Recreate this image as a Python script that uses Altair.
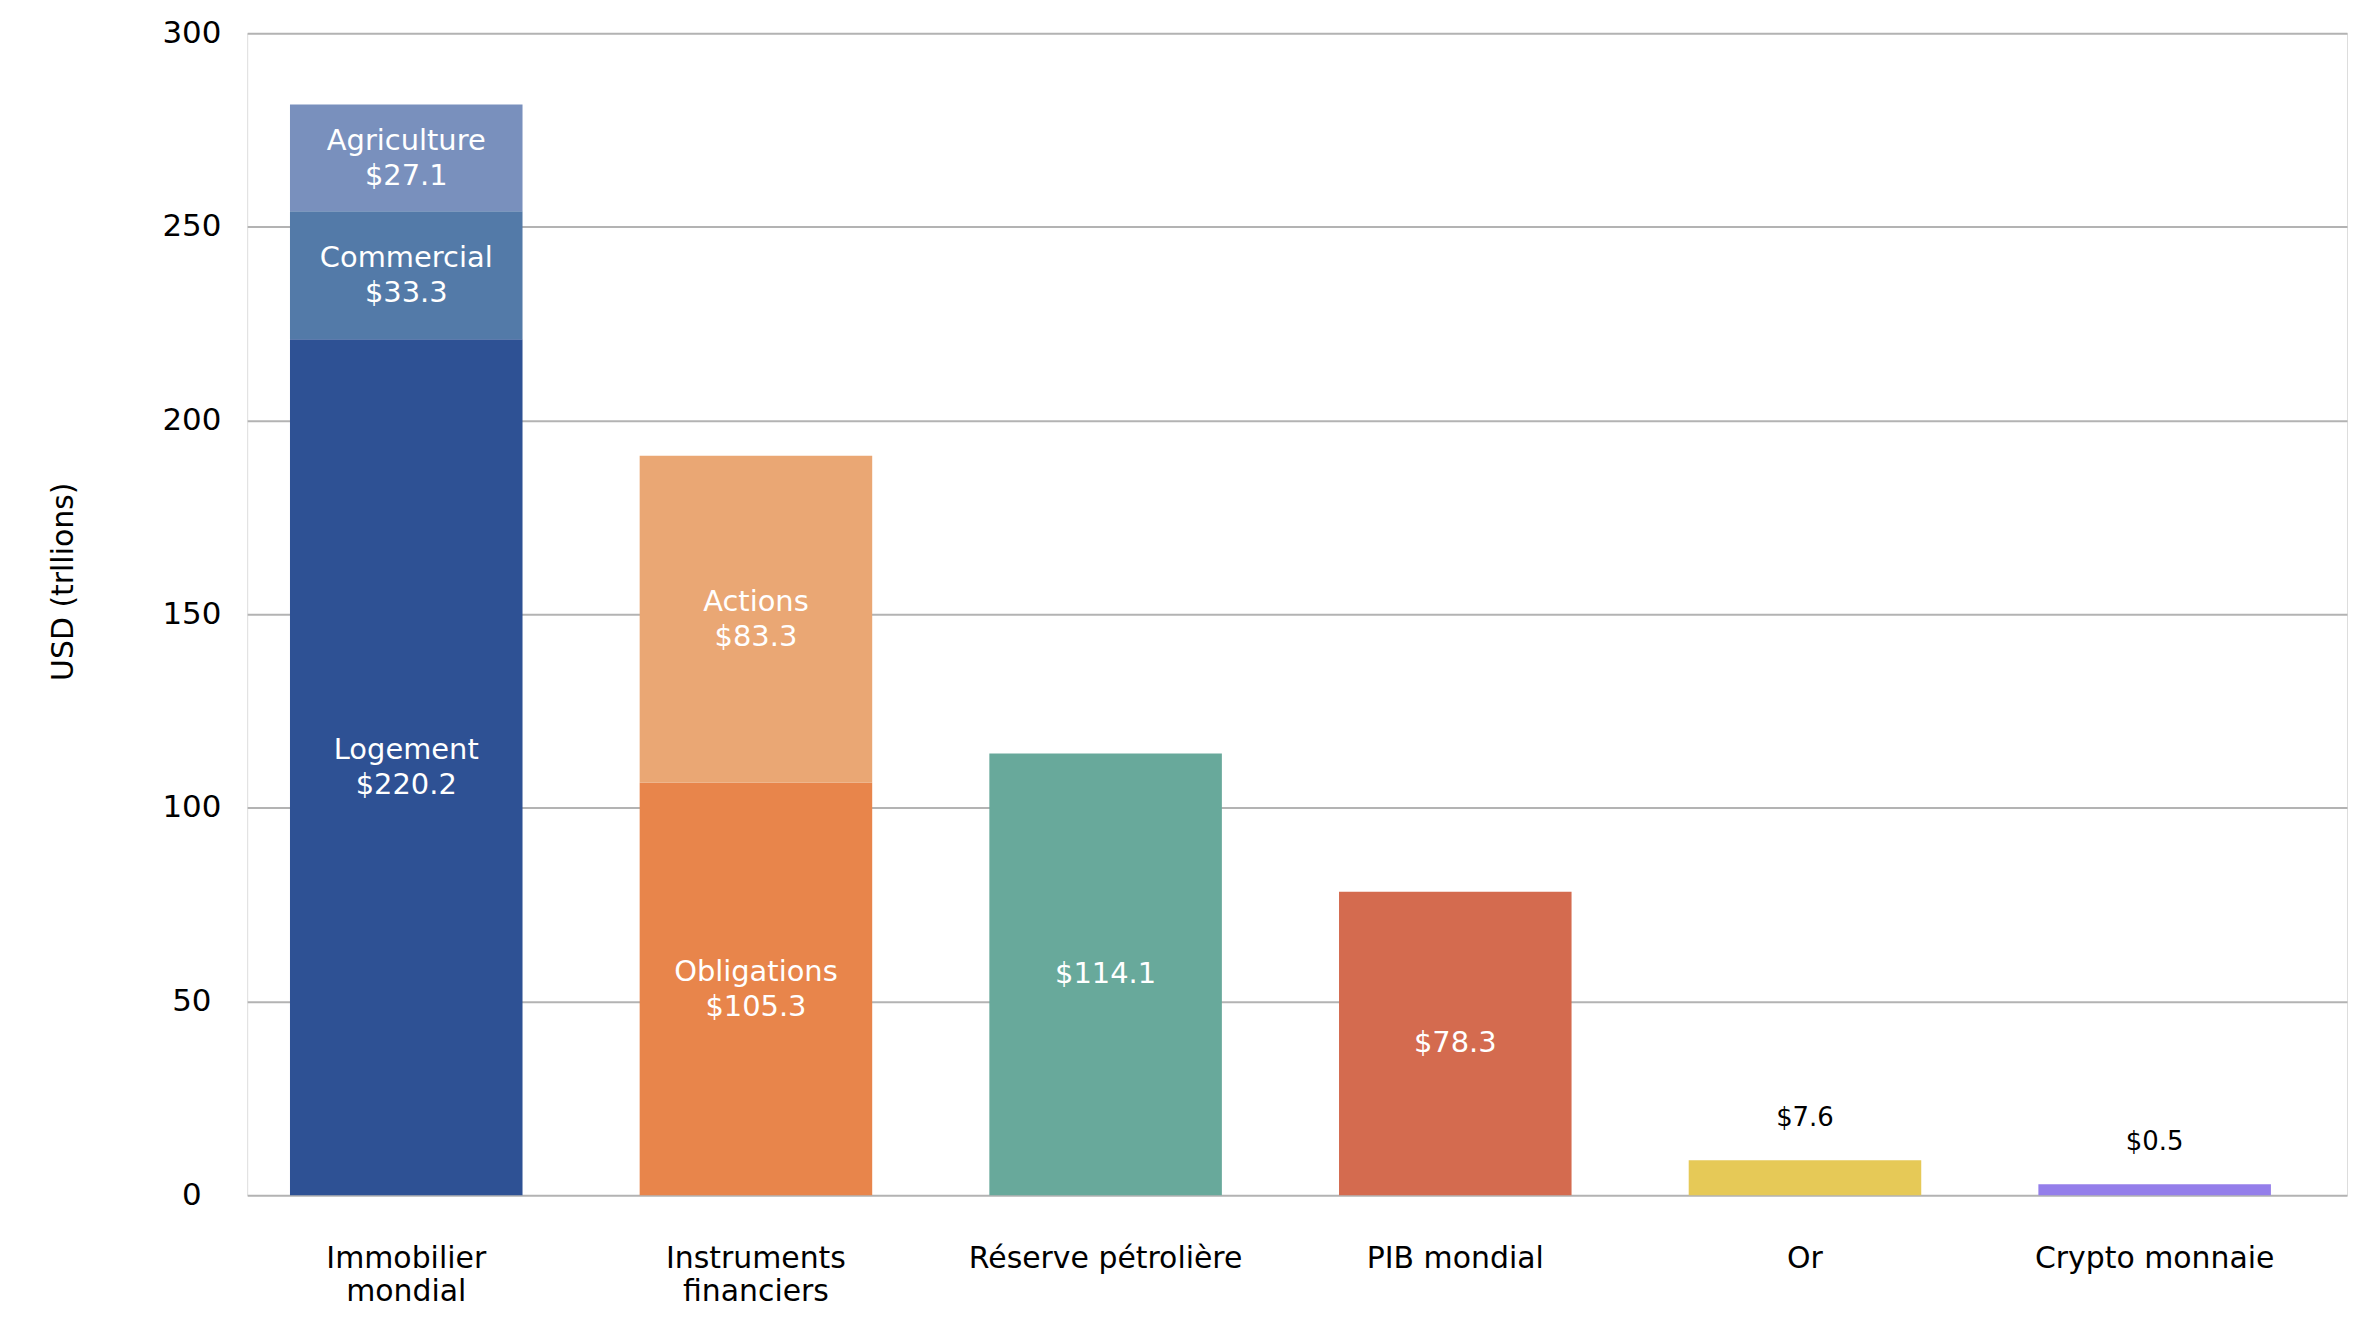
import altair as alt
import pandas as pd

FONT = "DejaVu Sans"

# Categories (x axis), "|" marks a line break in the tick label
categories = ["Immobilier|mondial", "Instruments|financiers", "Réserve pétrolière",
              "PIB mondial", "Or", "Crypto monnaie"]

# Segments of each bar (bottom to top)
seg_category = ["Immobilier|mondial", "Immobilier|mondial", "Immobilier|mondial",
                "Instruments|financiers", "Instruments|financiers",
                "Réserve pétrolière", "PIB mondial", "Or", "Crypto monnaie"]
seg_names = ["Logement", "Commercial", "Agriculture", "Obligations", "Actions",
             "Réserve", "PIB", "Or", "Crypto"]
seg_show_name = [True, True, True, True, True, False, False, False, False]
seg_values = [220.2, 33.3, 27.1, 105.3, 83.3, 114.1, 78.3, 7.6, 0.5]
# heights as drawn in the picture (the picture's bars differ a little from the labels)
seg_drawn = [221.0, 33.0, 27.6, 106.5, 84.4, 114.0, 78.3, 9.0, 2.8]
seg_label_outside = [False, False, False, False, False, False, False, True, True]
seg_colors = ["#2e5194", "#537aa8", "#7990bd", "#e8854b", "#eaa774",
              "#68a99b", "#d46b4f", "#e6c957", "#947eea"]

rows = []
cum = {}
for cat, name, show, val, drawn, outside in zip(seg_category, seg_names, seg_show_name,
                                                seg_values, seg_drawn, seg_label_outside):
    y0 = cum.get(cat, 0.0)
    y1 = y0 + drawn
    cum[cat] = y1
    rows.append(dict(category=cat, segment=name, y0=y0, y1=y1,
                     mid=(y0 + y1) / 2, name=name, value=f"${val}",
                     two=show, outside=outside))
df = pd.DataFrame(rows)

x_enc = alt.X(
    "category:N", sort=categories,
    scale=alt.Scale(paddingInner=0.335, paddingOuter=0.17, align=0.36),
    axis=alt.Axis(title=None, labelExpr="split(datum.label, '|')", labelAngle=0,
                  labelFontSize=30, labelPadding=49, labelBaseline="top",
                  labelLineHeight=33, labelLimit=0, domain=False, ticks=False,
                  labelColor="black", labelFont=FONT, grid=False),
)

bars = alt.Chart(df).mark_bar().encode(
    x=x_enc,
    y=alt.Y("y0:Q", scale=alt.Scale(domain=[0, 300], nice=False),
            axis=alt.Axis(values=[0, 50, 100, 150, 200, 250, 300],
                          title="USD (trllions)", titleFontSize=30, titleFont=FONT,
                          titleFontWeight="normal", titleColor="black",
                          titleX=-184, titleY=550, titleBaseline="middle",
                          labelFontSize=31, labelFont=FONT, labelColor="black",
                          labelAlign="center", labelPadding=56, labelBaseline="middle",
                          domain=False, ticks=False, tickSize=0,
                          gridColor="#b3b3b3", gridWidth=2)),
    y2="y1:Q",
    color=alt.Color("segment:N", scale=alt.Scale(domain=seg_names, range=seg_colors),
                    legend=None),
)

txt_props = dict(color="white", fontSize=29, font=FONT, baseline="middle", align="center")
xs = alt.X("category:N", sort=categories)

# two-line labels: name above, value below
names = alt.Chart(df).transform_filter("datum.two").mark_text(dy=-17, **txt_props).encode(
    x=xs, y="mid:Q", text="name:N")
vals2 = alt.Chart(df).transform_filter("datum.two").mark_text(dy=18, **txt_props).encode(
    x=xs, y="mid:Q", text="value:N")
# one-line labels inside the bar
vals1 = alt.Chart(df).transform_filter("!datum.two && !datum.outside").mark_text(
    **txt_props).encode(x=xs, y="mid:Q", text="value:N")

outside = alt.Chart(df).transform_filter("datum.outside").mark_text(
    color="black", fontSize=26, font=FONT, baseline="middle", align="center", dy=-42,
).encode(x=xs, y="y1:Q", text="value:N")

chart = alt.layer(bars, names, vals2, vals1, outside).properties(
    width=2107, height=1166,
    autosize=alt.AutoSizeParams(type="none"),
    padding={"left": 240, "top": 23, "right": 2, "bottom": 110},
).configure_view(stroke=None).configure(background="white")

chart.save("out.html", embed_options={"renderer": "svg", "actions": False})
